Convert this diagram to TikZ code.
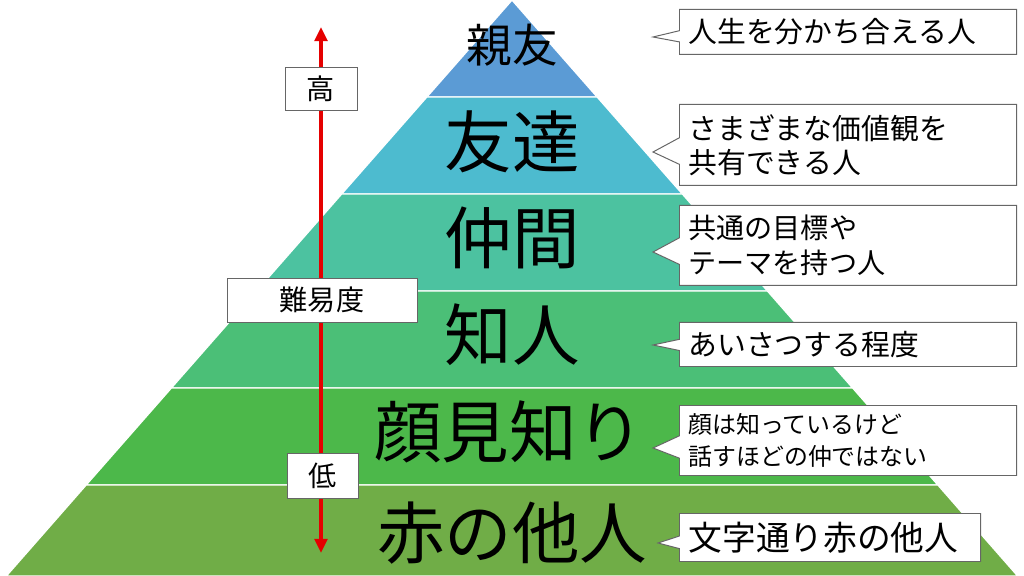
\documentclass[tikz,border=0pt]{standalone}
\usepackage{fontspec}
\setmainfont{Noto Sans CJK JP}
\usetikzlibrary{shapes.callouts,arrows.meta}
\definecolor{lvone}{HTML}{5B9BD5}
\definecolor{lvtwo}{HTML}{4DBBCF}
\definecolor{lvthree}{HTML}{4CC2A0}
\definecolor{lvfour}{HTML}{4BBF77}
\definecolor{lvfive}{HTML}{4CB84A}
\definecolor{lvsix}{HTML}{70AD47}
\def\pxl{0.025cm}
\tikzset{
	band/.style={draw=white, line width=1pt},
	rank/.style={font=\fontsize{48}{48}\selectfont, inner sep=0pt},
	tag/.style={draw=black!60, fill=white, line width=0.7pt, inner sep=0pt, font=\fontsize{20}{20}\selectfont},
	note/.style={rectangle callout, draw=black!60, fill=white, line width=0.7pt, anchor=north west, align=left, inner ysep=0pt, inner xsep=6.4pt, callout pointer width=8pt, font=\fontsize{20.5}{24.5}\selectfont}
}

\begin{document}
\begin{tikzpicture}[x=\pxl, y=-\pxl]
		%%%%% START %%%%%
		\useasboundingbox (0, 0) rectangle (1024, 576);
		
		\draw[band, fill=lvone] (512, 0) -- (597.2, 97) -- (426.8, 97) -- cycle;
		\draw[band, fill=lvtwo] (426.8, 97) -- (597.2, 97) -- (682.4, 194) -- (341.6, 194) -- cycle;
		\draw[band, fill=lvthree] (341.6, 194) -- (682.4, 194) -- (767.5, 291) -- (256.5, 291) -- cycle;
		\draw[band, fill=lvfour] (256.5, 291) -- (767.5, 291) -- (852.7, 388) -- (171.3, 388) -- cycle;
		\draw[band, fill=lvfive] (171.3, 388) -- (852.7, 388) -- (937.9, 485) -- (86.1, 485) -- cycle;
		\draw[band, fill=lvsix] (86.1, 485) -- (937.9, 485) -- (1017.7, 576) -- (6.3, 576) -- cycle;
		
		\node[rank, font=\fontsize{32.5}{32.5}\selectfont] (bestfriend) at (512, 45) {親友};
		\node[rank] (friend) at (512, 142) {友達};
		\node[rank] (mate) at (512, 238) {仲間};
		\node[rank] (acquaint) at (512, 335) {知人};
		\node[rank] (face) at (509, 432) {顔見知り};
		\node[rank] (stranger) at (512, 533) {赤の他人};
		
		\coordinate (hi) at (321, 27);
		\coordinate (lo) at (321, 553);
		\draw[red!90!black, line width=2.8pt, {Triangle[width=9pt, length=10pt]}-{Triangle[width=9pt, length=10pt]}] (lo) -- (hi);
		
		\node[tag, minimum width={72*\pxl}, minimum height={43*\pxl}] (high) at (321, 88.5) {高};
		\node[tag, minimum width={190*\pxl}, minimum height={44*\pxl}] (level) at (322, 300) {難易度};
		\node[tag, minimum width={71*\pxl}, minimum height={45*\pxl}] (low) at (322.5, 475.5) {低};
		
		\node[note, text width=226.9pt, minimum height={45*\pxl}, callout absolute pointer={(653, 37)}] (notea) at (679, 9) {人生を分かち合える人};
		\node[note, text width=226.9pt, minimum height={81*\pxl}, callout pointer width=19pt, callout absolute pointer={(653, 152)}] (noteb) at (679, 104) {さまざまな価値観を\\共有できる人};
		\node[note, text width=226.9pt, minimum height={80*\pxl}, callout pointer width=19pt, font=\fontsize{20}{25}\selectfont, callout absolute pointer={(653, 252)}] (notec) at (679, 205) {共通の目標や\\テーマを持つ人};
		\node[note, text width=226.9pt, minimum height={44*\pxl}, callout absolute pointer={(653, 345)}] (noted) at (679, 322) {あいさつする程度};
		\node[note, text width=226.9pt, minimum height={70*\pxl}, callout pointer width=16pt, font=\fontsize{17}{22.5}\selectfont, callout absolute pointer={(653, 448)}] (notee) at (679, 405) {顔は知っているけど\\話すほどの仲ではない};
		\node[note, text width=201.3pt, minimum height={48*\pxl}, callout pointer width=9pt, font=\fontsize{24}{24}\selectfont, callout absolute pointer={(658, 543)}] (notef) at (679, 513) {文字通り赤の他人};
		
		%%%%% END %%%%%
	\end{tikzpicture}
\end{document}
